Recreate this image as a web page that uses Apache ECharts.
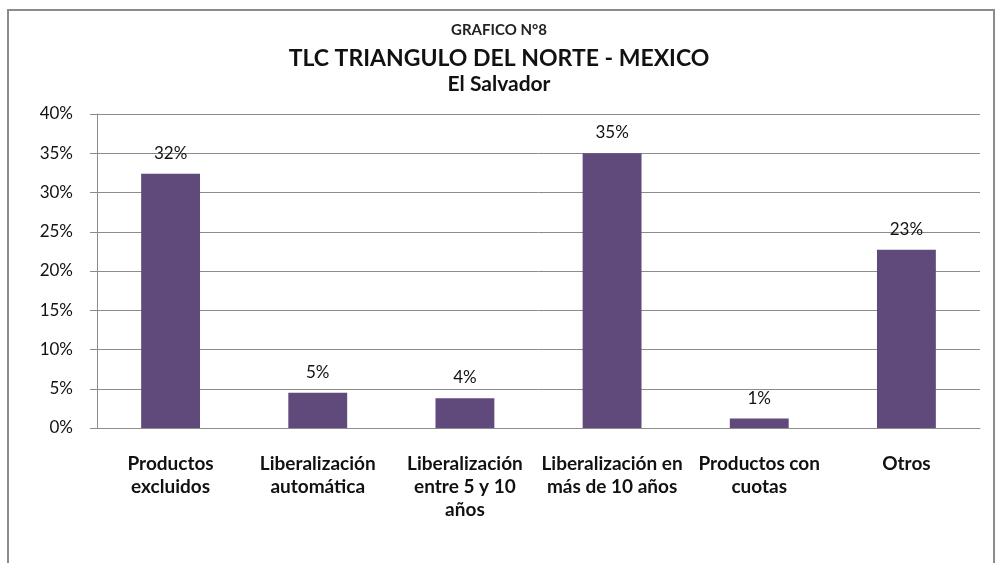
<!DOCTYPE html>
<html lang="es">
<head>
    <meta charset="UTF-8">
    <title>TLC Triangulo del Norte - Mexico</title>
    <script src="https://cdnjs.cloudflare.com/ajax/libs/echarts/6.0.0/echarts.min.js"></script>
    <style>
        html, body { margin: 0; padding: 0; background: #fff; }
        #frame { position: absolute; left: 7px; top: 9px; width: 984px; height: 600px; border: 2px solid #8c8c8c; }
        #chart { position: absolute; left: 0; top: 0; width: 998px; height: 563px; }
    </style>
</head>
<body>
    <div id="frame"></div>
    <div id="chart"></div>
    <script>
        // datos del grafico
        var categorias = ["Productos\nexcluidos", "Liberalización\nautomática", "Liberalización\nentre 5 y 10\naños", "Liberalización en\nmás de 10 años", "Productos con\ncuotas", "Otros"];
        var valores = [32.4, 4.5, 3.8, 35.0, 1.2, 22.7];
        var etiquetas = ["32%", "5%", "4%", "35%", "1%", "23%"];
        var ticksY = [0, 5, 10, 15, 20, 25, 30, 35, 40];

        var fuente = "Lato, 'Open Sans', sans-serif";
        var chart = echarts.init(document.getElementById("chart"));

        chart.setOption({
            animation: false,
            title: [
                { text: "GRAFICO N°8", left: "center", top: 18, textStyle: { fontFamily: fuente, fontSize: 15, fontWeight: "bold", color: "#222" } },
                { text: "TLC TRIANGULO DEL NORTE - MEXICO", left: "center", top: 42, textStyle: { fontFamily: fuente, fontSize: 23, fontWeight: "bold", color: "#111" } },
                { text: "El Salvador", left: "center", top: 69, textStyle: { fontFamily: fuente, fontSize: 21, fontWeight: "bold", color: "#111" } }
            ],
            grid: { left: 97, right: 18, top: 114, bottom: 135 },
            xAxis: {
                type: "category",
                data: categorias,
                axisLine: { lineStyle: { color: "#8c8c8c", width: 1 } },
                axisTick: { show: false },
                axisLabel: {
                    fontFamily: fuente, fontSize: 19, fontWeight: "bold", color: "#111",
                    lineHeight: 23, margin: 24, interval: 0
                }
            },
            yAxis: {
                type: "value",
                min: ticksY[0],
                max: ticksY[ticksY.length - 1],
                interval: 5,
                axisLine: { show: true, lineStyle: { color: "#8c8c8c" } },
                axisTick: { show: true, length: 7, lineStyle: { color: "#8c8c8c" } },
                splitLine: { lineStyle: { color: "#8c8c8c", width: 1 } },
                axisLabel: {
                    fontFamily: fuente, fontSize: 17, color: "#111", margin: 24,
                    formatter: function (v) { return v + "%"; }
                }
            },
            series: [{
                type: "bar",
                data: valores,
                barWidth: "40%",
                itemStyle: { color: "#604a7b" },
                label: {
                    show: true,
                    position: "top",
                    distance: 12,
                    fontFamily: fuente,
                    fontSize: 17,
                    color: "#111",
                    formatter: function (p) { return etiquetas[p.dataIndex]; }
                }
            }]
        });
    </script>
</body>
</html>
